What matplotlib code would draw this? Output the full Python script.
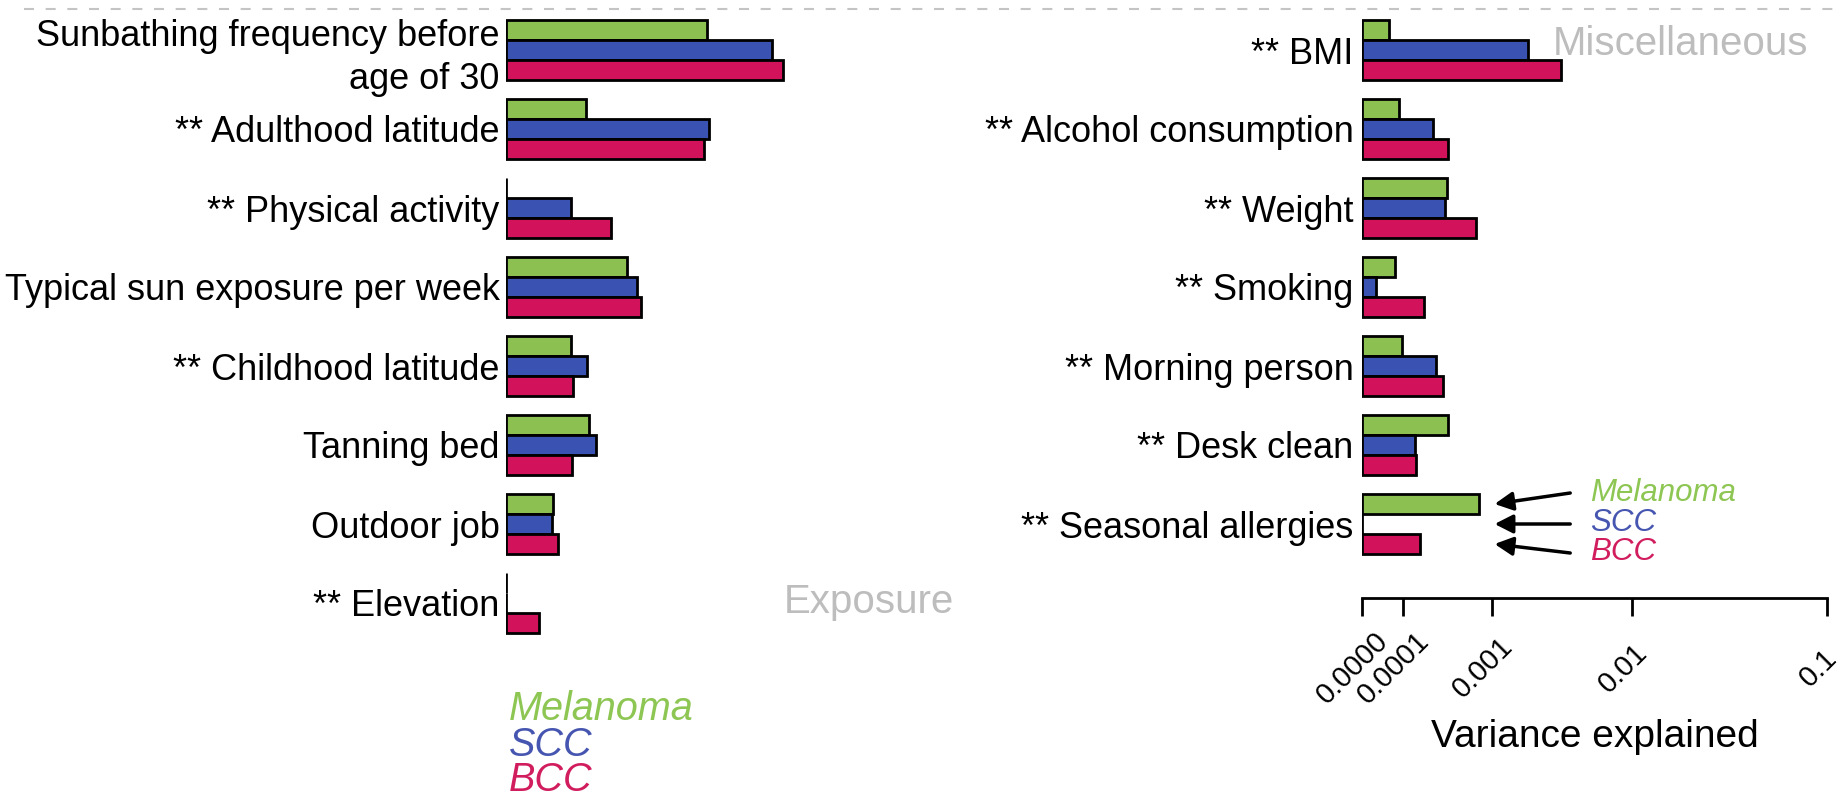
import numpy as np
import matplotlib
matplotlib.use('Agg')
import matplotlib.pyplot as plt
from matplotlib.lines import Line2D
from matplotlib.transforms import ScaledTranslation

plt.rcParams['font.family'] = ['Liberation Sans', 'DejaVu Sans']

# values (variance explained)
exposure_labels = ["Sunbathing frequency before\nage of 30", "** Adulthood latitude",
                   "** Physical activity", "Typical sun exposure per week",
                   "** Childhood latitude", "Tanning bed", "Outdoor job", "** Elevation"]
exp_melanoma = [0.00356, 0.00033, 0.0, 0.00083, 0.00022, 0.00035, 0.000125, 0.0]
exp_scc = [0.0095, 0.00368, 0.00022, 0.00102, 0.000335, 0.00042, 0.00012, 0.0]
exp_bcc = [0.01106, 0.00339, 0.00059, 0.0011, 0.00023, 0.000225, 0.000148, 0.000073]

misc_labels = ["** BMI", "** Alcohol consumption", "** Weight", "** Smoking",
               "** Morning person", "** Desk clean", "** Seasonal allergies"]
misc_melanoma = [0.000056, 0.000087, 0.00037, 0.000073, 0.000097, 0.00038, 0.00076]
misc_scc = [0.00197, 0.00026, 0.00035, 0.000024, 0.00028, 0.000153, 0.0]
misc_bcc = [0.00345, 0.00038, 0.00072, 0.0002, 0.000335, 0.000158, 0.000179]

x_ticks = [0.0, 0.0001, 0.001, 0.01, 0.1]
x_ticklabels = ["0.0000", "0.0001", "0.001", "0.01", "0.1"]
series = ["Melanoma", "SCC", "BCC"]

bar_cols = ['#8cc152', '#3a52b2', '#d2125a']
text_cols = ['#8dc653', '#4656b0', '#d11d5e']
grey = '#bdbdbd'

W, H = 1843, 797
fig = plt.figure(figsize=(W / 100, H / 100), dpi=100)

# compressed power scale for the x axis
C, P = 5e-5, 0.14
def fwd(x):
    x = np.maximum(np.asarray(x, dtype=float), 0)
    return (x + C) ** P - C ** P
def inv(y):
    y = np.maximum(np.asarray(y, dtype=float), 0)
    return (y + C ** P) ** (1 / P) - C

row0, step = 50, 79
bh = 20 / step

def make_ax(left, bottom):
    ax = fig.add_axes([left / W, 1 - bottom / H, 465 / W, bottom / H])
    ax.set_xscale('function', functions=(fwd, inv))
    ax.set_xlim(0, 0.1)
    ax.set_ylim((bottom - row0) / step, -row0 / step)
    for s in ax.spines.values():
        s.set_visible(False)
    return ax

ax_l = make_ax(506, 797)
ax_r = make_ax(1362, 598)

for ax, labels, groups, pad in [(ax_l, exposure_labels, [exp_melanoma, exp_scc, exp_bcc], 4.5),
                                (ax_r, misc_labels, [misc_melanoma, misc_scc, misc_bcc], 6)]:
    y = np.arange(len(labels))
    for k, vals in enumerate(groups):
        ax.barh(y + (k - 1) * bh, vals, height=bh, color=bar_cols[k],
                edgecolor='black', linewidth=2)
    ax.set_yticks(y)
    ax.set_yticklabels(labels, fontsize=26)
    ax.tick_params(axis='y', length=0, pad=pad)
    ax.get_yticklabels()[0].set_linespacing(1.3)

ax_l.set_xticks([])

ax_r.spines['bottom'].set_visible(True)
ax_r.spines['bottom'].set_linewidth(2)
ax_r.set_xticks(x_ticks)
ax_r.tick_params(axis='x', length=13, width=2, labelbottom=False)
ax_r.xaxis.set_minor_locator(matplotlib.ticker.NullLocator())
lab_tr = ax_r.get_xaxis_transform() + ScaledTranslation(-9 / 100, -70 / 100, fig.dpi_scale_trans)
for t, lbl in zip(x_ticks, x_ticklabels):
    ax_r.text(t, 0, lbl, transform=lab_tr, rotation=45, ha='center', va='center',
              fontsize=21, clip_on=False)

fig.text(1594.5 / W, 1 - 747 / H, "Variance explained", ha='center', va='baseline', fontsize=28)

fig.text(954 / W, 1 - 613 / H, "Exposure", ha='right', va='baseline', color=grey, fontsize=29)
fig.text(1808 / W, 1 - 55 / H, "Miscellaneous", ha='right', va='baseline', color=grey, fontsize=29)

# dashed line across the top
fig.add_artist(Line2D([24 / W, 1], [1 - 9 / H, 1 - 9 / H], transform=fig.transFigure,
                      color='#c4c4c4', lw=1.5, linestyle=(0, (4.8, 5.6))))

# left legend
for k, (name, base) in enumerate(zip(series, [720, 756, 791])):
    fig.text(509 / W, 1 - base / H, name, style='italic', color=text_cols[k],
             fontsize=28.5, va='baseline')

# right legend with arrows pointing at the seasonal allergies bars
for k, (name, base, tail) in enumerate(zip(series, [501, 531, 560], [493, 524, 553])):
    fig.text(1590 / W, 1 - base / H, name, style='italic', color=text_cols[k],
             fontsize=22.5, va='baseline')
    ax_r.annotate('', xy=(0.00105, 6 + (k - 1) * bh), xytext=(0.0040, (tail - row0) / step),
                  arrowprops=dict(arrowstyle='-|>,head_length=0.55,head_width=0.28',
                                  color='black', lw=2.5, shrinkA=0, shrinkB=0,
                                  mutation_scale=20),
                  annotation_clip=False)

fig.savefig('out.png', dpi=100)
